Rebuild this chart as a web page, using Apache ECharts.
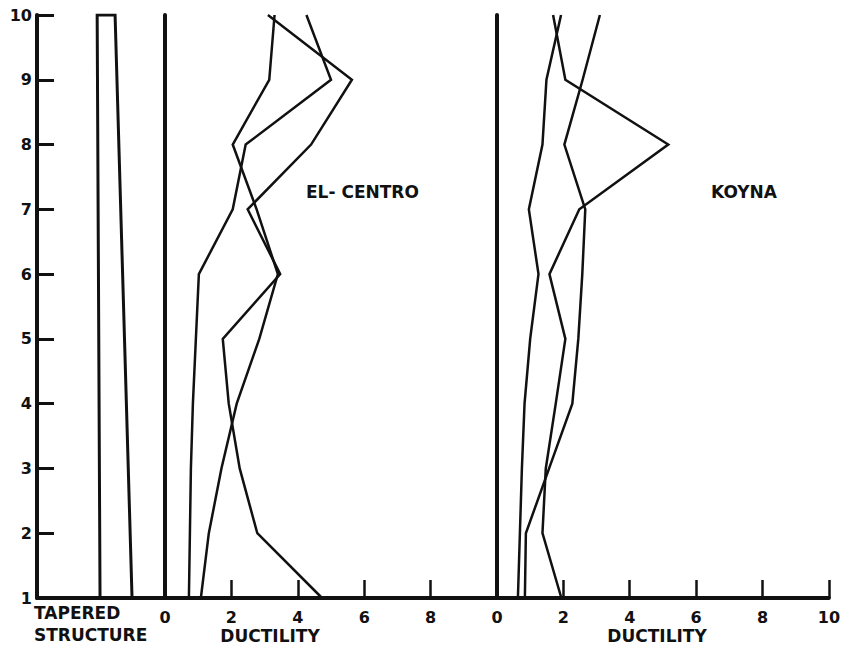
<!DOCTYPE html>
<html>
<head>
<meta charset="utf-8">
<title>Ductility - El-Centro / Koyna</title>
<script src="https://cdn.jsdelivr.net/npm/echarts@6/dist/echarts.min.js"></script>
<style>
  html, body { margin: 0; padding: 0; background: #fff; }
  #chart { width: 843px; height: 648px; }
</style>
</head>
<body>
<div id="chart"></div>
<script>
// floors (y) and ductility values per floor
const floors = [1, 2, 3, 4, 5, 6, 7, 8, 9, 10];
const floorTicks = ["1", "2", "3", "4", "5", "6", "7", "8", "9", "10"];

const elCentroA = [4.73, 2.78, 2.25, 1.92, 1.74, 3.47, 2.49, 4.40, 5.63, 3.10];
const elCentroB = [1.08, 1.32, 1.70, 2.16, 2.84, 3.40, 2.76, 2.04, 3.14, 3.30];
const elCentroC = [0.72, 0.75, 0.78, 0.84, 0.93, 1.02, 2.04, 2.43, 5.00, 4.26];

const koynaA = [1.94, 1.37, 1.47, 1.77, 2.06, 1.58, 2.48, 5.16, 2.06, 1.69];
const koynaB = [0.63, 0.69, 0.75, 0.83, 1.00, 1.25, 0.96, 1.37, 1.49, 1.93];
const koynaC = [0.84, 0.87, 1.57, 2.27, 2.45, 2.57, 2.66, 2.03, 2.58, 3.10];

// outline of the tapered structure (open at the base)
const taperX = [1.97, 1.88, 2.44, 2.97];
const taperY = [1, 10, 10, 1];

const INK = "#111";
const FONT = '"DejaVu Sans", Arial, sans-serif';

function pairs(xs, ys) {
  return xs.map((x, i) => [x, ys[i]]);
}

function lineSeries(values, gridIdx) {
  return {
    type: "line",
    xAxisIndex: gridIdx,
    yAxisIndex: gridIdx,
    data: pairs(values, floors),
    showSymbol: false,
    symbol: "none",
    lineStyle: { color: INK, width: 2.5, join: "miter" },
    silent: true,
    z: 3
  };
}

function yAxisFor(gridIdx, withLabels) {
  return {
    type: "value",
    gridIndex: gridIdx,
    min: 1,
    max: 10,
    interval: 1,
    splitLine: { show: false },
    axisLine: { show: true, onZero: false, lineStyle: { color: INK, width: 4 } },
    axisTick: {
      show: withLabels,
      inside: true,
      length: 17,
      lineStyle: { color: INK, width: 3 }
    },
    axisLabel: {
      show: withLabels,
      margin: 5,
      color: INK,
      fontSize: 16,
      fontWeight: "bold",
      fontFamily: FONT,
      formatter: (v) => floorTicks[floors.indexOf(v)] || ""
    }
  };
}

function xAxisFor(gridIdx, max, showTicks, hideMax) {
  return {
    type: "value",
    gridIndex: gridIdx,
    min: 0,
    max: max,
    interval: 2,
    splitLine: { show: false },
    axisLine: { show: true, onZero: false, lineStyle: { color: INK, width: 4 } },
    axisTick: {
      show: showTicks,
      inside: true,
      length: 18,
      lineStyle: { color: INK, width: 2.5 }
    },
    axisLabel: {
      show: showTicks,
      showMaxLabel: !hideMax,
      margin: 11,
      color: INK,
      fontSize: 16,
      fontWeight: "bold",
      fontFamily: FONT
    }
  };
}

function label(text, x, y, align, size) {
  return {
    type: "text",
    x: x,
    y: y,
    silent: true,
    style: {
      text: text,
      fill: INK,
      font: "bold " + size + "px " + FONT,
      align: align,
      verticalAlign: "middle"
    }
  };
}

const chart = echarts.init(document.getElementById("chart"), null, { renderer: "svg" });

chart.setOption({
  animation: false,
  backgroundColor: "#fff",
  grid: [
    { left: 37, top: 15, width: 128, bottom: 50 },
    { left: 165, top: 15, width: 332, bottom: 50 },
    { left: 497, top: 15, width: 336, bottom: 50 }
  ],
  xAxis: [
    xAxisFor(0, 4, false, false),
    xAxisFor(1, 10, true, true),
    xAxisFor(2, 10, true, false)
  ],
  yAxis: [
    yAxisFor(0, true),
    yAxisFor(1, false),
    yAxisFor(2, false)
  ],
  series: [
    {
      type: "line",
      xAxisIndex: 0,
      yAxisIndex: 0,
      data: pairs(taperX, taperY),
      showSymbol: false,
      symbol: "none",
      lineStyle: { color: INK, width: 3, join: "miter" },
      silent: true
    },
    lineSeries(elCentroA, 1),
    lineSeries(elCentroB, 1),
    lineSeries(elCentroC, 1),
    lineSeries(koynaA, 2),
    lineSeries(koynaB, 2),
    lineSeries(koynaC, 2)
  ],
  graphic: [
    label("EL- CENTRO", 306, 192, "left", 17),
    label("KOYNA", 711, 192, "left", 17),
    label("TAPERED", 34, 613, "left", 17),
    label("STRUCTURE", 34, 635, "left", 17),
    label("DUCTILITY", 270, 636, "center", 17),
    label("DUCTILITY", 657, 636, "center", 17)
  ]
});
</script>
</body>
</html>
